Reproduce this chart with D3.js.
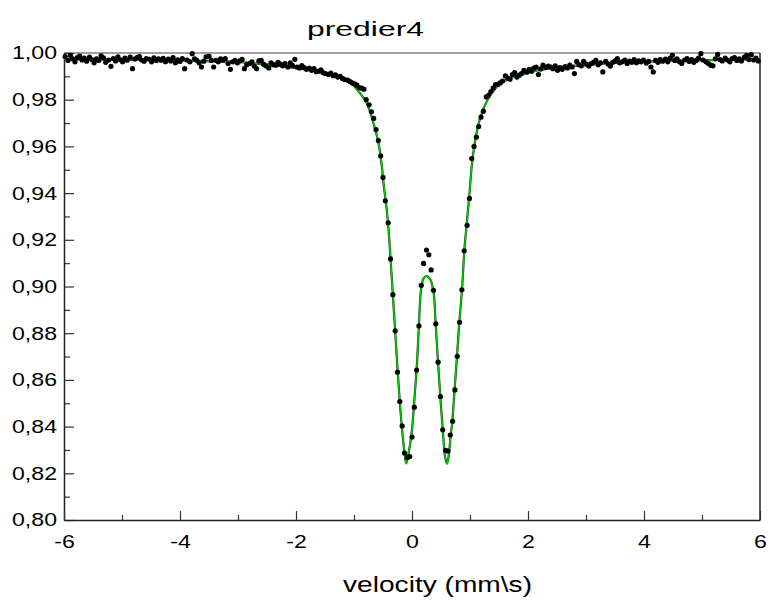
<!DOCTYPE html>
<html>
<head>
<meta charset="utf-8">
<script src="https://cdn.jsdelivr.net/npm/d3@7"></script>
<style>
  body { margin: 0; background: #fff; }
  text { font-family: "Liberation Sans", Arial, sans-serif; fill: #000; }
</style>
</head>
<body>
<div id="chart-area"></div>
<script>
// velocity channels (mm/s) and measured transmission
var velocity = [
  -5.98,-5.93,-5.89,-5.85,-5.81,-5.77,-5.73,-5.69,-5.65,-5.61,
  -5.56,-5.52,-5.48,-5.44,-5.40,-5.36,-5.32,-5.28,-5.23,-5.19,
  -5.15,-5.11,-5.07,-5.03,-4.99,-4.95,-4.91,-4.86,-4.82,-4.78,
  -4.74,-4.70,-4.66,-4.62,-4.58,-4.53,-4.49,-4.45,-4.41,-4.37,
  -4.33,-4.29,-4.25,-4.20,-4.16,-4.12,-4.08,-4.04,-4.00,-3.96,
  -3.92,-3.88,-3.83,-3.79,-3.75,-3.71,-3.67,-3.63,-3.59,-3.55,
  -3.50,-3.46,-3.42,-3.38,-3.34,-3.30,-3.26,-3.22,-3.17,-3.13,
  -3.09,-3.05,-3.01,-2.97,-2.93,-2.89,-2.85,-2.80,-2.76,-2.72,
  -2.68,-2.64,-2.60,-2.56,-2.52,-2.47,-2.43,-2.39,-2.35,-2.31,
  -2.27,-2.23,-2.19,-2.14,-2.10,-2.06,-2.02,-1.98,-1.94,-1.90,
  -1.86,-1.82,-1.77,-1.73,-1.69,-1.65,-1.61,-1.57,-1.53,-1.49,
  -1.44,-1.40,-1.36,-1.32,-1.28,-1.24,-1.20,-1.16,-1.11,-1.07,
  -1.03,-0.99,-0.95,-0.91,-0.87,-0.83,-0.79,-0.74,-0.70,-0.66,
  -0.62,-0.58,-0.54,-0.50,-0.46,-0.41,-0.37,-0.33,-0.29,-0.25,
  -0.21,-0.17,-0.13,-0.08,-0.04,0.00,0.04,0.08,0.12,0.16,
  0.20,0.25,0.29,0.33,0.37,0.41,0.45,0.49,0.53,0.58,
  0.62,0.66,0.70,0.74,0.78,0.82,0.86,0.90,0.95,0.99,
  1.03,1.07,1.11,1.15,1.19,1.23,1.28,1.32,1.36,1.40,
  1.44,1.48,1.52,1.56,1.61,1.65,1.69,1.73,1.77,1.81,
  1.85,1.89,1.93,1.98,2.02,2.06,2.10,2.14,2.18,2.22,
  2.26,2.31,2.35,2.39,2.43,2.47,2.51,2.55,2.59,2.64,
  2.68,2.72,2.76,2.80,2.84,2.88,2.92,2.96,3.01,3.05,
  3.09,3.13,3.17,3.21,3.25,3.29,3.34,3.38,3.42,3.46,
  3.50,3.54,3.58,3.62,3.67,3.71,3.75,3.79,3.83,3.87,
  3.91,3.95,3.99,4.04,4.08,4.12,4.16,4.20,4.24,4.28,
  4.32,4.37,4.41,4.45,4.49,4.53,4.57,4.61,4.65,4.70,
  4.74,4.78,4.82,4.86,4.90,4.94,4.98,5.02,5.07,5.11,
  5.15,5.19,5.23,5.27,5.31,5.35,5.40,5.44,5.48,5.52,
  5.56,5.60,5.64,5.68,5.73,5.77,5.81,5.85,5.89,5.93,
  5.97
];

var transmission = [
  0.9985,0.9968,0.9990,0.9975,0.9962,0.9980,0.9987,0.9970,0.9978,0.9965,
  0.9982,0.9972,0.9958,0.9975,0.9968,0.9988,0.9979,0.9960,0.9970,0.9943,
  0.9976,0.9966,0.9984,0.9971,0.9962,0.9978,0.9969,0.9982,0.9933,0.9974,
  0.9980,0.9985,0.9970,0.9965,0.9976,0.9973,0.9962,0.9979,0.9968,0.9975,
  0.9969,0.9977,0.9963,0.9974,0.9966,0.9980,0.9958,0.9971,0.9964,0.9976,
  0.9933,0.9970,0.9962,0.9997,0.9975,0.9969,0.9958,0.9940,0.9965,0.9983,
  0.9986,0.9968,0.9940,0.9969,0.9962,0.9975,0.9969,0.9976,0.9955,0.9930,
  0.9962,0.9969,0.9958,0.9966,0.9973,0.9933,0.9950,0.9955,0.9962,0.9944,
  0.9933,0.9966,0.9969,0.9952,0.9945,0.9936,0.9958,0.9950,0.9948,0.9960,
  0.9952,0.9945,0.9955,0.9940,0.9958,0.9947,0.9973,0.9940,0.9936,0.9946,
  0.9938,0.9930,0.9935,0.9926,0.9933,0.9920,0.9922,0.9928,0.9915,0.9912,
  0.9908,0.9914,0.9903,0.9906,0.9897,0.9900,0.9891,0.9886,0.9884,0.9878,
  0.9872,0.9868,0.9862,0.9852,0.9850,0.9845,0.9800,0.9778,0.9748,0.9720,
  0.9672,0.9625,0.9559,0.9467,0.9367,0.9273,0.9118,0.8965,0.8810,0.8633,
  0.8507,0.8403,0.8287,0.8268,0.8272,0.8355,0.8483,0.8642,0.8831,0.9005,
  0.9099,0.9156,0.9136,0.9071,0.8984,0.8840,0.8676,0.8529,0.8386,0.8298,
  0.8295,0.8364,0.8423,0.8557,0.8701,0.8847,0.8986,0.9153,0.9262,0.9377,
  0.9548,0.9600,0.9640,0.9685,0.9725,0.9751,0.9812,0.9819,0.9835,0.9850,
  0.9865,0.9865,0.9872,0.9880,0.9902,0.9893,0.9888,0.9908,0.9916,0.9897,
  0.9905,0.9912,0.9926,0.9918,0.9930,0.9922,0.9935,0.9940,0.9908,0.9932,
  0.9948,0.9938,0.9944,0.9940,0.9933,0.9945,0.9926,0.9938,0.9930,0.9942,
  0.9936,0.9948,0.9940,0.9912,0.9964,0.9950,0.9945,0.9964,0.9952,0.9944,
  0.9955,0.9960,0.9969,0.9950,0.9958,0.9919,0.9964,0.9953,0.9944,0.9960,
  0.9966,0.9976,0.9958,0.9962,0.9970,0.9955,0.9965,0.9960,0.9972,0.9958,
  0.9966,0.9962,0.9970,0.9957,0.9964,0.9940,0.9919,0.9968,0.9960,0.9972,
  0.9965,0.9974,0.9962,0.9978,0.9990,0.9968,0.9975,0.9963,0.9955,0.9970,
  0.9976,0.9964,0.9972,0.9960,0.9968,0.9978,0.9997,0.9970,0.9962,0.9955,
  0.9948,0.9945,0.9975,0.9994,0.9972,0.9966,0.9978,0.9970,0.9962,0.9976,
  0.9980,0.9968,0.9975,0.9966,0.9982,0.9990,0.9972,0.9993,0.9970,0.9978,
  0.9966
];

// fitted curve
var fitVelocity = [
  -6, -5, -4, -3.74, -3, -2.79, -2.4, -1.93, -1.6, -1.41, -1.24, -1.06, -0.89,
  -0.776, -0.662, -0.576, -0.519, -0.49, -0.45, -0.41, -0.37, -0.33, -0.29,
  -0.25, -0.21, -0.17, -0.13, -0.10, -0.07, -0.03, 0.005, 0.045, 0.086, 0.121,
  0.155, 0.20, 0.252, 0.316, 0.372, 0.407, 0.448, 0.488, 0.528, 0.574, 0.603,
  0.631, 0.66, 0.695, 0.734, 0.776, 0.816, 0.862, 0.902, 0.941, 0.988, 1.034,
  1.091, 1.149, 1.234, 1.35, 1.522, 1.752, 2.04, 2.44, 2.90, 3.59, 4.5, 5.3, 6
];
var fitTransmission = [
  0.9974, 0.9972, 0.9968, 0.9966, 0.9962, 0.9957, 0.9948, 0.9933, 0.9919, 0.9908, 0.9895, 0.9872, 0.9826,
  0.9784, 0.9698, 0.9612, 0.9512, 0.9440, 0.9360, 0.9262, 0.9120, 0.8965, 0.8805,
  0.8650, 0.8505, 0.8385, 0.8290, 0.8242, 0.8272, 0.8329, 0.8400, 0.8529, 0.8671, 0.8843,
  0.8985, 0.9035, 0.9045, 0.9030, 0.8975, 0.8843, 0.8678, 0.8529, 0.8393, 0.8265, 0.8241,
  0.8272, 0.8343, 0.8423, 0.8557, 0.8701, 0.8847, 0.8986, 0.9153, 0.9262, 0.9390, 0.9525,
  0.9627, 0.9698, 0.9762, 0.9819, 0.9869, 0.9897, 0.9919, 0.9936, 0.9947, 0.9959, 0.9966, 0.9970, 0.9973
];

var xTicks = [-6, -4, -2, 0, 2, 4, 6];
var xMinorTicks = [-5, -3, -1, 1, 3, 5];
var yTicks = [0.80, 0.82, 0.84, 0.86, 0.88, 0.90, 0.92, 0.94, 0.96, 0.98, 1.00];
var yMinorTicks = [0.81, 0.83, 0.85, 0.87, 0.89, 0.91, 0.93, 0.95, 0.97, 0.99];

var chartTitle = "predier4";
var xLabel = "velocity (mm\\s)";

var W = 772, H = 604;
var margin = {top: 53, right: 12, bottom: 84, left: 64},
    width = W - margin.left - margin.right,
    height = H - margin.top - margin.bottom;

var svg = d3.select("#chart-area")
    .append("svg")
    .attr("width", W)
    .attr("height", H);

svg.append("rect").attr("width", W).attr("height", H).attr("fill", "#fff");

var g = svg.append("g")
    .attr("transform", "translate(" + margin.left + "," + margin.top + ")");

var xScale = d3.scaleLinear().domain([-6, 6]).range([0, width]);
var yScale = d3.scaleLinear().domain([0.8, 1.0]).range([height, 0]);

var stretch = 1.25;
var fmt = function(d) { return d.toFixed(2).replace(".", ","); };

// frame: top grey, right black
g.append("line").attr("x1", 0).attr("x2", width).attr("y1", 0).attr("y2", 0)
    .attr("stroke", "#808080").attr("stroke-width", 1.5);
g.append("line").attr("x1", width).attr("x2", width).attr("y1", 0).attr("y2", height)
    .attr("stroke", "#000").attr("stroke-width", 1.3);

// minor ticks
g.append("g")
    .call(d3.axisLeft(yScale).tickValues(yMinorTicks).tickSizeInner(-6).tickSizeOuter(0).tickFormat(""))
    .call(function(a) { a.select(".domain").remove(); })
    .selectAll("line").attr("stroke", "#333").attr("stroke-width", 1.2);
g.append("g")
    .attr("transform", "translate(0," + height + ")")
    .call(d3.axisBottom(xScale).tickValues(xMinorTicks).tickSizeInner(-5).tickSizeOuter(0).tickFormat(""))
    .call(function(a) { a.select(".domain").remove(); })
    .selectAll("line").attr("stroke", "#333").attr("stroke-width", 1.2);

// major axes
var yAxisG = g.append("g")
    .call(d3.axisLeft(yScale).tickValues(yTicks).tickSizeInner(-10).tickSizeOuter(0)
        .tickPadding(7).tickFormat(fmt));
var xAxisG = g.append("g")
    .attr("transform", "translate(0," + height + ")")
    .call(d3.axisBottom(xScale).tickValues(xTicks).tickSizeInner(-9).tickSizeOuter(0)
        .tickPadding(15).tickFormat(function(d) { return String(d); }));

[yAxisG, xAxisG].forEach(function(a) {
    a.select(".domain").attr("stroke", "#222").attr("stroke-width", 1.5);
    a.selectAll(".tick line").attr("stroke", "#333").attr("stroke-width", 1.2);
    a.selectAll("text")
        .attr("font-size", "18.5px")
        .attr("font-family", "'Liberation Sans', Arial, sans-serif")
        .attr("fill", "#000");
});
yAxisG.selectAll("text").attr("x", -7 / stretch).attr("transform", "scale(" + stretch + ",1)");
xAxisG.selectAll("text").attr("transform", "scale(" + stretch + ",1)");

// fit curve (dark underlay, green on top)
var line = d3.line()
    .x(function(d) { return xScale(d[0]); })
    .y(function(d) { return yScale(d[1]); })
    .curve(d3.curveCatmullRom.alpha(0.5));
var fitData = fitVelocity.map(function(v, i) { return [v, fitTransmission[i]]; });

g.append("path").datum(fitData)
    .attr("d", line).attr("fill", "none")
    .attr("stroke", "#1a3a1a").attr("stroke-width", 2.2);
g.append("path").datum(fitData)
    .attr("d", line).attr("fill", "none")
    .attr("stroke", "#00d000").attr("stroke-width", 1.4);

// data points
var points = velocity.map(function(v, i) { return {v: v, t: transmission[i]}; });
g.selectAll("circle.pt")
    .data(points)
    .enter()
    .append("circle")
    .attr("class", "pt")
    .attr("cx", function(d) { return xScale(d.v); })
    .attr("cy", function(d) { return yScale(d.t); })
    .attr("r", 2.6)
    .attr("fill", "#000");

// title and axis label
svg.append("text")
    .attr("x", 307).attr("y", 36)
    .attr("font-size", "20px")
    .attr("textLength", 117)
    .attr("lengthAdjust", "spacingAndGlyphs")
    .text(chartTitle);

svg.append("text")
    .attr("x", 343).attr("y", 592)
    .attr("font-size", "22px")
    .attr("textLength", 189)
    .attr("lengthAdjust", "spacingAndGlyphs")
    .text(xLabel);
</script>
</body>
</html>
